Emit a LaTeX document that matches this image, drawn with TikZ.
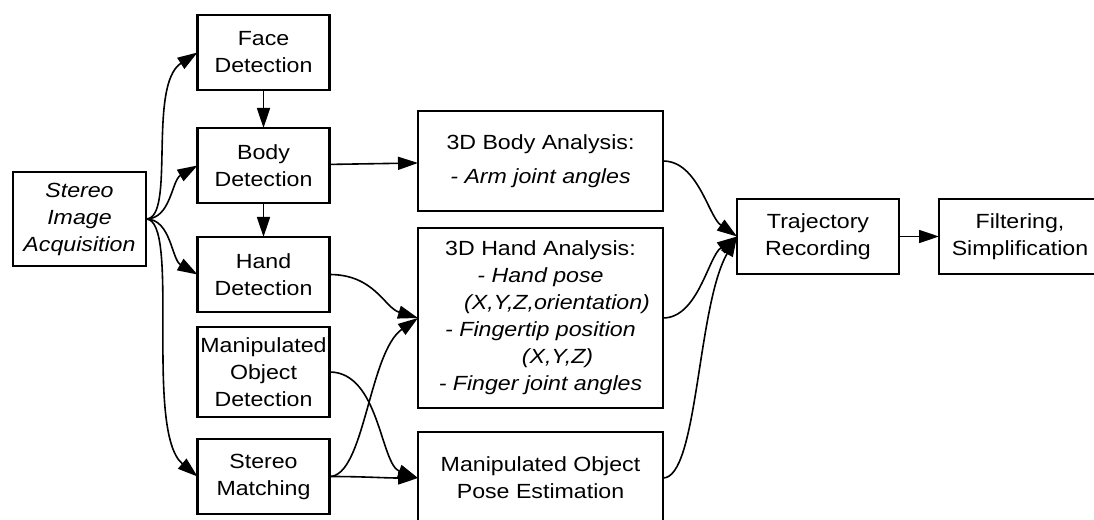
\documentclass[tikz,border=0pt]{standalone}
\usepackage{fontspec}
\setmainfont[FakeStretch=1.13]{Liberation Sans}
\providecommand{\diagfont}{\fontsize{20.5}{27}\selectfont}
\usetikzlibrary{positioning, arrows.meta, graphs}

\begin{document}
\begin{tikzpicture}[x=1pt, y=1pt, node distance=20pt, line width=1.6pt,
    >={Triangle[length=20pt, width=13pt]},
    block/.style={draw, line width=2.4pt, inner sep=0pt, outer sep=0pt, align=center,
        minimum width=132pt, minimum height=75pt, font=\diagfont},
    wide block/.style={block, minimum width=245pt}]
    \useasboundingbox (0,0) rectangle (1094,519);
    \clip (0,0) rectangle (1094,519);

    \node[block, minimum width=133pt, minimum height=94pt, font=\diagfont\itshape] (acquisition) at (79.5,300) {Stereo\\Image\\Acquisition};
    \node[block] (face detection) at (263.5,466.5) {Face\\Detection};
    \node[block, below=38pt of face detection] (body detection) {Body\\Detection};
    \node[block, below=34pt of body detection] (hand detection) {Hand\\Detection};
    \node[block, below=15pt of hand detection, minimum height=90pt] (object detection) {Manipulated\\Object\\Detection};
    \node[block, below=22pt of object detection] (stereo matching) {Stereo\\Matching};

    \node[wide block, minimum height=100pt] (body analysis) at (540.5,358) {3D Body Analysis:\\[7pt]\textit{- Arm joint angles}};
    \node[wide block, below=17pt of body analysis, minimum height=180pt] (hand analysis) {3D Hand Analysis:\\
        \textit{- Hand pose}\\
        \hspace*{33pt}\textit{(X,Y,Z,orientation)}\\
        \textit{- Fingertip position}\\
        \hspace*{34pt}\textit{(X,Y,Z)}\\
        \textit{- Finger joint angles}};
    \node[wide block, below=24pt of hand analysis, minimum height=92pt] (pose estimation) {Manipulated Object\\Pose Estimation};

    \node[block, minimum width=162pt] (trajectory) at (818,282.5) {Trajectory\\Recording};
    \node[block, minimum width=162pt, right=40pt of trajectory] (filtering) {Filtering,\\Simplification};

    \graph{(face detection) -> (body detection) -> (hand detection);
        (body detection) -> (body analysis);
        (trajectory) -> (filtering)};

    % fan out of the stereo images
    \draw[->] (acquisition.east) to[out=0, in=213, out distance=30pt, in distance=60pt] (face detection.west);
    \draw[->] (acquisition.east) to[out=0, in=210, out distance=25pt, in distance=30pt] (body detection.west);
    \draw[->] (acquisition.east) to[out=0, in=150, out distance=25pt, in distance=30pt] (hand detection.west);
    \draw[->] (acquisition.east) to[out=0, in=140, out distance=35pt, in distance=70pt] (stereo matching.west);

    % into the 3D analysis
    \draw[->] (hand detection.east) to[out=0, in=163, out distance=45pt, in distance=35pt] (hand analysis.west);
    \draw[->] (object detection.east) to[out=0, in=160, out distance=50pt, in distance=40pt] (pose estimation.west);
    \draw[->] (stereo matching.east) to[out=0, in=215, out distance=35pt, in distance=60pt] (hand analysis.west);
    \draw[->] (stereo matching.east) to[out=0, in=180] (pose estimation.west);

    % into the recording
    \draw[->] (body analysis.east) to[out=0, in=145, out distance=35pt, in distance=35pt] (trajectory.west);
    \draw[->] (hand analysis.east) to[out=0, in=215, out distance=35pt, in distance=35pt] (trajectory.west);
    \draw[->] (pose estimation.east) to[out=0, in=240, out distance=35pt, in distance=80pt] (trajectory.west);
\end{tikzpicture}
\end{document}
